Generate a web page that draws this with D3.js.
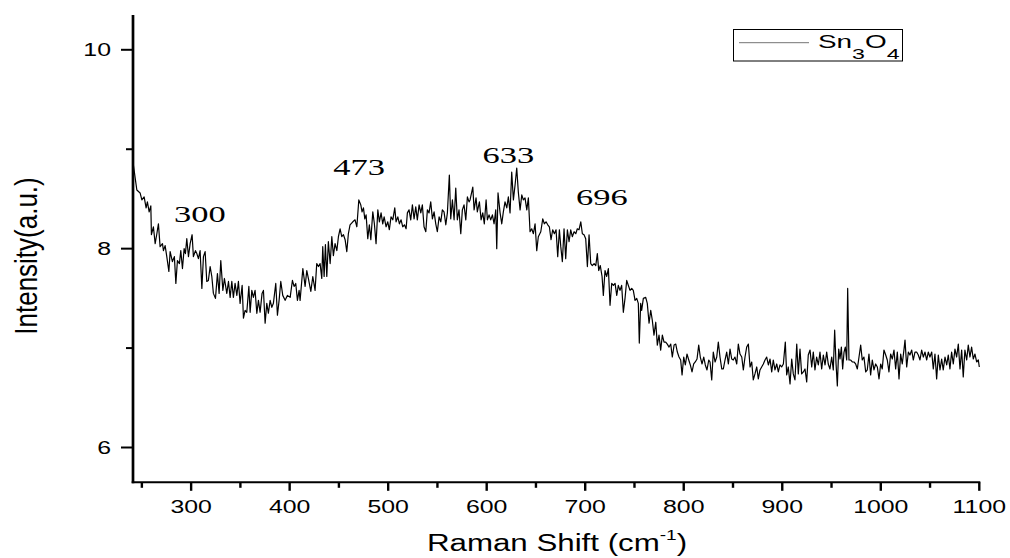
<!DOCTYPE html>
<html>
<head>
<meta charset="utf-8">
<script src="https://cdn.jsdelivr.net/npm/d3@7"></script>
<style>
  body { margin: 0; background: #fff; }
  svg { display: block; }
</style>
</head>
<body>
<svg id="chart" width="1010" height="558"></svg>
<script>
// Raman spectrum of Sn3O4: wavenumber (cm^-1) and intensity (a.u.)
const ramanShift = [
  241.4,244.9,248.2,250.0,252.3,254.3,255.6,257.4,259.1,259.7,261.7,263.5,265.2,266.8,268.5,270.9,271.9,273.6,275.3,277.4,
  278.7,281.0,283.0,284.5,286.1,288.1,289.5,291.2,292.9,294.2,295.6,297.3,299.0,301.0,302.3,304.4,305.8,307.4,309.1,310.9,
  312.5,314.2,315.9,317.5,319.3,321.0,322.6,324.7,326.7,328.4,330.1,332.2,333.8,336.2,337.9,339.6,341.3,342.9,344.6,346.4,
  348.0,349.7,351.8,353.1,354.8,356.5,358.6,359.9,361.6,363.2,364.9,366.7,368.3,370.0,372.0,373.4,375.1,376.8,378.4,380.2,
  381.9,383.5,385.9,387.6,389.3,391.0,393.0,395.4,397.7,400.5,402.8,404.5,406.2,407.9,409.6,
  410.6,413.4,415.7,417.4,419.0,421.5,423.5,425.8,427.5,429.2,430.9,432.6,433.6,435.0,436.3,437.7,439.3,441.1,442.8,444.4,
  446.1,447.9,449.5,451.2,452.9,454.6,456.3,458.0,459.6,461.3,464.1,466.4,468.2,470.2,472.2,473.5,474.9,476.3,477.6,479.3,
  480.9,482.4,484.4,486.0,487.7,489.5,491.1,492.8,494.5,495.9,497.9,499.6,501.2,502.9,504.7,506.7,508.0,509.8,511.4,513.1,
  514.8,516.5,518.2,519.5,521.2,522.9,524.6,526.3,528.0,529.6,531.4,533.1,534.7,536.4,538.2,539.8,541.5,543.2,544.9,546.6,
  548.3,549.9,551.7,553.4,555.0,556.7,558.5,560.1,562.1,563.5,565.2,566.9,568.6,570.2,571.9,573.7,575.3,577.0,578.8,580.4,
  582.1,
  583.1,585.9,587.2,589.2,590.5,592.6,594.3,596.0,597.6,599.4,600.7,602.4,604.1,605.8,607.5,609.2,610.2,611.5,613.6,615.3,
  616.9,618.6,620.4,622.0,623.7,625.4,627.1,628.8,630.5,632.1,633.9,635.6,637.2,638.9,640.7,642.3,644.0,645.7,647.4,649.1,
  650.8,652.4,654.9,656.9,658.5,660.2,662.0,663.6,665.3,667.0,668.7,670.4,672.1,673.8,675.2,676.8,678.5,680.2,681.9,683.6,
  685.3,686.9,688.7,690.4,692.0,693.7,695.5,697.1,698.8,700.5,702.2,703.9,705.6,707.2,709.0,710.7,712.3,713.7,715.3,717.1,
  718.4,720.1,721.8,723.5,725.2,726.9,728.6,730.3,732.0,733.6,735.3,737.0,738.7,740.4,742.1,743.8,745.5,747.2,748.8,750.6,
  752.3,753.9,754.9,756.3,
  757.3,759.0,761.4,763.0,764.8,766.5,768.1,769.8,771.6,773.2,774.9,776.6,778.3,780.0,781.7,783.3,785.1,786.8,788.4,790.2,
  791.9,793.5,795.2,796.9,798.3,800.0,801.6,803.3,805.1,806.7,808.4,810.1,811.7,813.5,815.2,816.8,818.6,820.3,821.9,823.6,
  825.4,826.7,828.4,830.0,831.8,833.5,835.1,836.8,838.6,840.2,841.9,843.6,845.3,847.0,848.7,850.3,852.0,853.8,855.4,857.1,
  858.9,860.5,862.2,863.9,865.6,867.3,869.0,870.6,872.3,874.1,875.7,877.4,879.1,880.8,882.5,884.2,885.9,887.6,889.3,890.9,
  892.6,894.4,896.0,897.7,899.4,901.1,903.1,904.5,906.1,907.9,909.6,911.2,912.9,914.7,916.3,918.0,919.7,921.4,923.1,924.8,
  926.4,
  928.2,929.9,931.5,933.2,934.9,936.6,938.3,940.0,941.7,943.4,945.1,946.7,948.4,950.2,951.8,953.2,954.6,955.9,957.3,958.6,
  960.0,961.3,962.7,964.0,965.4,966.4,967.7,969.5,971.1,972.8,974.5,976.2,977.9,979.6,981.2,982.9,984.7,986.3,988.0,989.7,
  991.4,993.1,994.8,996.5,998.2,999.9,1001.5,1003.2,1005.0,1006.6,1008.3,1010.0,1011.7,1013.4,1015.1,1016.8,1018.5,1020.2,1021.8,1023.6,
  1024.6,1026.3,1028.0,1029.6,1031.4,1033.0,1034.7,1036.4,1038.1,1039.8,1041.5,1043.2,1044.9,1046.6,1048.2,1049.9,1051.7,1053.3,1055.0,1056.7,
  1058.4,1060.1,1061.8,1063.4,1065.2,1066.9,1068.5,1070.2,1071.9,1073.6,1075.3,1077.0,1078.7,1080.4,1082.1,1083.7,1085.4,1087.2,1088.8,1090.5,
  1092.2,1093.9,1095.6,1097.3,1099.0,1100.0
];
const intensity = [
  8.84,8.59,8.56,8.49,8.52,8.41,8.47,8.37,8.43,8.14,8.22,8.05,8.15,8.25,8.02,8.05,7.98,8.03,7.92,7.77,
  7.97,7.87,7.92,7.65,7.88,7.85,7.98,7.80,8.00,7.95,8.10,7.92,8.05,8.14,7.92,7.98,7.95,7.90,7.98,7.60,
  7.92,7.97,7.67,7.68,7.82,7.72,7.55,7.50,7.75,7.55,7.88,7.58,7.70,7.55,7.67,7.51,7.67,7.51,7.65,7.53,
  7.67,7.45,7.63,7.30,7.38,7.36,7.62,7.36,7.58,7.51,7.58,7.35,7.48,7.36,7.55,7.58,7.25,7.45,7.35,7.48,
  7.41,7.45,7.65,7.33,7.48,7.67,7.53,7.48,7.53,7.51,7.68,7.62,7.65,7.48,7.58,
  7.48,7.80,7.62,7.78,7.70,7.57,7.72,7.58,7.85,7.82,7.85,7.70,8.02,7.72,8.04,7.72,8.07,7.85,8.12,7.93,
  8.05,7.98,8.12,8.20,8.12,8.14,8.09,7.97,8.15,8.24,8.27,8.29,8.22,8.49,8.44,8.37,8.41,8.30,8.34,8.10,
  8.24,8.09,8.37,8.25,8.05,8.39,8.27,8.36,8.25,8.32,8.22,8.27,8.19,8.32,8.29,8.41,8.27,8.32,8.25,8.29,
  8.22,8.24,8.20,8.36,8.39,8.29,8.44,8.30,8.42,8.29,8.44,8.36,8.44,8.22,8.17,8.39,8.36,8.47,8.30,8.37,
  8.25,8.17,8.32,8.27,8.39,8.37,8.24,8.36,8.74,8.30,8.49,8.29,8.61,8.29,8.39,8.15,8.39,8.44,8.29,8.52,
  8.47,
  8.49,8.62,8.39,8.51,8.37,8.47,8.29,8.36,8.25,8.49,8.29,8.34,8.29,8.34,8.25,8.39,8.00,8.56,8.36,8.25,
  8.37,8.47,8.41,8.52,8.36,8.77,8.49,8.64,8.81,8.57,8.39,8.54,8.49,8.51,8.39,8.51,8.17,8.20,8.15,8.25,
  7.98,8.12,8.17,8.30,8.25,8.27,8.24,8.22,8.09,8.19,8.15,8.19,7.92,8.19,8.02,7.87,8.20,7.90,8.19,8.07,
  8.19,8.12,8.17,8.15,8.20,8.19,8.27,8.15,8.14,8.10,7.82,8.14,7.85,7.83,7.85,7.83,7.95,7.78,7.83,7.72,
  7.53,7.78,7.72,7.80,7.43,7.65,7.63,7.65,7.53,7.63,7.58,7.63,7.36,7.50,7.68,7.63,7.58,7.60,7.58,7.48,
  7.50,7.45,7.05,7.45,
  7.38,7.50,7.51,7.45,7.25,7.38,7.28,7.13,7.26,7.03,7.13,6.98,7.13,7.06,7.06,7.04,7.01,7.04,6.91,7.03,
  7.04,6.96,6.91,6.88,6.73,6.91,6.83,6.94,6.88,6.83,6.76,6.84,6.86,6.89,7.03,6.91,6.84,6.91,6.83,6.78,
  6.88,6.86,6.68,6.96,6.86,6.91,7.06,6.91,6.79,6.79,6.88,6.96,6.84,6.99,6.89,6.88,6.91,6.84,7.04,6.94,
  6.91,6.78,6.91,7.01,7.04,6.81,6.86,6.68,6.74,6.81,6.69,6.78,6.81,6.84,6.88,6.91,6.83,6.89,6.76,6.88,
  6.78,6.84,6.76,6.83,6.81,6.84,7.06,6.73,6.81,6.64,6.89,6.74,6.68,7.04,6.74,6.99,6.74,6.76,6.79,6.66,
  6.93,
  6.98,6.81,6.96,6.78,6.91,6.83,6.96,6.79,6.93,6.83,6.96,6.84,6.79,6.91,6.78,7.18,6.84,6.62,6.99,6.89,
  7.01,6.79,6.96,7.01,6.88,7.60,6.88,6.88,6.86,6.86,6.84,6.79,6.91,7.03,6.88,6.91,6.76,6.78,6.94,6.73,
  6.88,6.78,6.84,6.81,6.69,6.84,6.79,6.98,6.93,6.88,6.76,6.94,6.89,6.98,6.79,6.96,6.69,6.94,6.84,6.99,
  7.08,6.81,6.96,6.93,6.98,6.88,6.96,6.96,6.93,6.88,6.98,6.91,6.96,6.88,6.96,6.91,6.96,6.79,6.94,6.69,
  6.93,6.78,6.89,6.78,6.91,6.83,6.93,6.79,6.96,6.84,6.99,6.91,7.04,6.79,6.98,6.71,6.98,6.88,7.03,6.91,
  7.01,6.89,6.94,6.86,6.88,6.81
];

// Axis ticks
const xMajorTicks = [300, 400, 500, 600, 700, 800, 900, 1000, 1100];
const xMinorTicks = [250, 350, 450, 550, 650, 750, 850, 950, 1050];
const yMajorTicks = [6, 8, 10];
const yMinorTicks = [7, 9];

// Peak annotations: label text and its anchor (wavenumber, intensity)
const peakLabels = ["300", "473", "633", "696"];
const peakLabelShift = [308.8, 470.5, 622.0, 716.8];
const peakLabelIntensity = [8.27, 8.74, 8.86, 8.44];

const seriesName = { base: "Sn", sub1: "3", mid: "O", sub2: "4" };

const svg = d3.select("#chart");

const x = d3.scaleLinear().domain([241, 1100]).range([133, 979.3]);
const y = d3.scaleLinear().domain([5.65, 10.35]).range([482.3, 15]);

const sans = "'Liberation Sans', Arial, sans-serif";
const serif = "'Liberation Serif', 'Times New Roman', serif";
const stretch = 1.38;

// Spectrum line
const points = ramanShift.map((v, i) => [v, intensity[i]]);
svg.append("path")
  .datum(points)
  .attr("fill", "none")
  .attr("stroke", "#000")
  .attr("stroke-width", 1.2)
  .attr("stroke-linejoin", "round")
  .attr("d", d3.line().x(d => x(d[0])).y(d => y(d[1])));

// Bottom axis
const xAxis = svg.append("g").attr("transform", `translate(0,${y.range()[0]})`);
xAxis.append("line")
  .attr("x1", x.range()[0] - 1.3).attr("x2", x.range()[1] + 1)
  .attr("stroke", "#000").attr("stroke-width", 2);
xAxis.selectAll("line.major").data(xMajorTicks).join("line")
  .attr("class", "major")
  .attr("x1", d => x(d)).attr("x2", d => x(d))
  .attr("y1", 0).attr("y2", 8.5)
  .attr("stroke", "#000").attr("stroke-width", 2.4);
xAxis.selectAll("line.minor").data(xMinorTicks).join("line")
  .attr("class", "minor")
  .attr("x1", d => x(d)).attr("x2", d => x(d))
  .attr("y1", 0).attr("y2", 5.5)
  .attr("stroke", "#000").attr("stroke-width", 2.4);
xAxis.selectAll("text").data(xMajorTicks).join("text")
  .attr("transform", d => `translate(${x(d)},30.5) scale(${stretch},1)`)
  .attr("text-anchor", "middle")
  .attr("font-family", sans)
  .attr("font-size", 18)
  .attr("fill", "#000")
  .text(d => d);

// Left axis
const yAxis = svg.append("g").attr("transform", `translate(${x.range()[0]},0)`);
yAxis.append("line")
  .attr("y1", y.range()[1]).attr("y2", y.range()[0] + 1)
  .attr("stroke", "#000").attr("stroke-width", 2.7);
yAxis.selectAll("line.major").data(yMajorTicks).join("line")
  .attr("class", "major")
  .attr("x1", 0).attr("x2", -12)
  .attr("y1", d => y(d)).attr("y2", d => y(d))
  .attr("stroke", "#000").attr("stroke-width", 2);
yAxis.selectAll("line.minor").data(yMinorTicks).join("line")
  .attr("class", "minor")
  .attr("x1", 0).attr("x2", -7)
  .attr("y1", d => y(d)).attr("y2", d => y(d))
  .attr("stroke", "#000").attr("stroke-width", 2);
yAxis.selectAll("text").data(yMajorTicks).join("text")
  .attr("transform", d => `translate(-22,${y(d) + 6.5}) scale(${stretch},1)`)
  .attr("text-anchor", "end")
  .attr("font-family", sans)
  .attr("font-size", 18)
  .attr("fill", "#000")
  .text(d => d);

// Axis titles
const xTitle = svg.append("text")
  .attr("transform", `translate(557,551) scale(1.36,1)`)
  .attr("text-anchor", "middle")
  .attr("font-family", sans)
  .attr("font-size", 23)
  .attr("fill", "#000");
xTitle.append("tspan").text("Raman Shift (cm");
xTitle.append("tspan").attr("font-size", 14).attr("dy", -11).text("-1");
xTitle.append("tspan").attr("dy", 11).text(")");

svg.append("text")
  .attr("transform", `translate(37,256) rotate(-90) scale(1,1.2)`)
  .attr("text-anchor", "middle")
  .attr("font-family", sans)
  .attr("font-size", 26)
  .attr("fill", "#000")
  .text("Intensity(a.u.)");

// Peak labels
svg.selectAll("text.peak").data(peakLabels).join("text")
  .attr("class", "peak")
  .attr("transform", (d, i) => `translate(${x(peakLabelShift[i])},${y(peakLabelIntensity[i])}) scale(1.5,1)`)
  .attr("text-anchor", "middle")
  .attr("font-family", serif)
  .attr("font-size", 23)
  .attr("fill", "#000")
  .text(d => d);

// Legend
const legend = svg.append("g");
legend.append("rect")
  .attr("x", 733.5).attr("y", 29.5).attr("width", 169).attr("height", 31.5)
  .attr("fill", "#fff").attr("stroke", "#000").attr("stroke-width", 1);
legend.append("line")
  .attr("x1", 739).attr("x2", 809).attr("y1", 42.7).attr("y2", 42.7)
  .attr("stroke", "#000").attr("stroke-width", 1).attr("stroke-opacity", 0.55);
const legendText = legend.append("text")
  .attr("transform", "translate(818,48.3) scale(1.5,1)")
  .attr("font-family", sans)
  .attr("font-size", 18.6)
  .attr("fill", "#000");
legendText.append("tspan").text(seriesName.base);
legendText.append("tspan").attr("font-size", 15.4).attr("dy", 11).text(seriesName.sub1);
legendText.append("tspan").attr("dy", -11).text(seriesName.mid);
legendText.append("tspan").attr("font-size", 15.4).attr("dy", 11).text(seriesName.sub2);
</script>
</body>
</html>
